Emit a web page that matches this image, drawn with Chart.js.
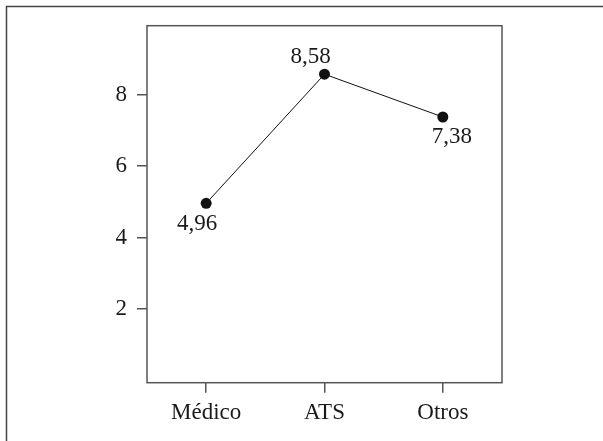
<!DOCTYPE html>
<html><head><meta charset="utf-8">
<style>html,body{margin:0;padding:0;background:#fff;}#wrap{width:603px;height:441px;position:relative;}</style>
<script src="https://cdn.jsdelivr.net/npm/chart.js@4/dist/chart.umd.min.js"></script>
</head><body><div id="wrap"><canvas id="c" width="603" height="441"></canvas></div>
<script>
const categories = ['Médico', 'ATS', 'Otros'];
const values = [4.96, 8.58, 7.38];
const yTicks = [2, 4, 6, 8];
const labelOffsets = [[-9, 21], [-14, -17], [9, 19.5]];

const FONT = "'Liberation Serif', 'Times New Roman', serif";
const AXIS = '#555';
const FS = 23;

const frame = {
  id: 'frame',
  beforeDraw(chart) {
    const ctx = chart.ctx;
    ctx.save();
    ctx.fillStyle = '#fff';
    ctx.fillRect(0, 0, chart.width, chart.height);
    ctx.strokeStyle = '#444';
    ctx.lineWidth = 1.5;
    ctx.beginPath();
    ctx.moveTo(6.5, chart.height);
    ctx.lineTo(6.5, 6.5);
    ctx.lineTo(chart.width, 6.5);
    ctx.stroke();
    ctx.restore();
  },
  afterDraw(chart) {
    const ctx = chart.ctx, a = chart.chartArea;
    ctx.save();
    ctx.strokeStyle = AXIS;
    ctx.lineWidth = 1.5;
    ctx.strokeRect(a.left, a.top, a.right - a.left, a.bottom - a.top);
    const meta = chart.getDatasetMeta(0);
    ctx.fillStyle = '#1a1a1a';
    ctx.font = FS + 'px ' + FONT;
    ctx.textAlign = 'center';
    ctx.textBaseline = 'middle';
    meta.data.forEach((pt, i) => {
      const o = labelOffsets[i];
      ctx.fillText(values[i].toFixed(2).replace('.', ','), pt.x + o[0], pt.y + o[1]);
    });
    ctx.restore();
  }
};

new Chart(document.getElementById('c'), {
  type: 'line',
  data: {
    labels: categories,
    datasets: [{
      data: values,
      borderColor: '#111',
      borderWidth: 1,
      pointRadius: 5.5,
      pointHoverRadius: 5.5,
      pointBackgroundColor: '#111',
      pointBorderColor: '#111',
      pointBorderWidth: 0,
      tension: 0,
      clip: false
    }]
  },
  options: {
    responsive: false,
    animation: false,
    events: [],
    layout: { padding: { left: 0, right: 101, top: 25.7, bottom: 0 } },
    plugins: { legend: { display: false }, tooltip: { enabled: false } },
    scales: {
      x: {
        type: 'category',
        offset: true,
        border: { display: false },
        grid: { display: true, drawOnChartArea: false, drawTicks: true, tickLength: 10, color: AXIS, lineWidth: 1.5 },
        ticks: { color: '#1a1a1a', font: { family: FONT, size: FS }, padding: 6, maxRotation: 0 },
        afterFit(s) { s.height = 58.3; }
      },
      y: {
        min: -0.07,
        max: 9.94,
        border: { display: false },
        grid: { display: true, drawOnChartArea: false, drawTicks: true, tickLength: 10, color: AXIS, lineWidth: 1.5 },
        ticks: { color: '#1a1a1a', font: { family: FONT, size: FS }, padding: 10 },
        afterBuildTicks(s) { s.ticks = yTicks.map(v => ({ value: v })); },
        afterFit(s) { s.width = 147; }
      }
    }
  },
  plugins: [frame]
});
</script>
</body></html>
